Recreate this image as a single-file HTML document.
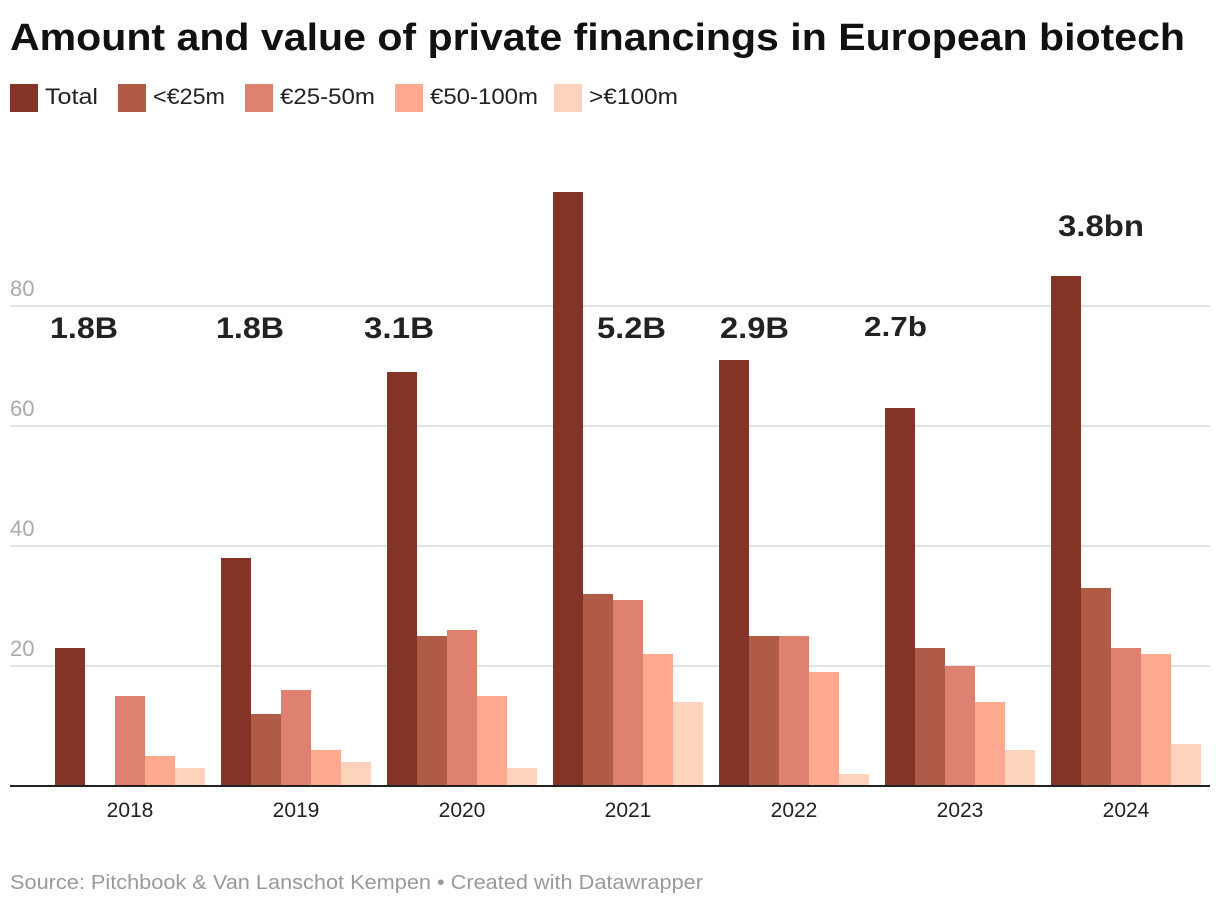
<!DOCTYPE html>
<html><head><meta charset="utf-8"><style>
body{margin:0;background:#fff;width:1220px;height:908px;overflow:hidden;font-family:"Liberation Sans",Arial,sans-serif}
</style></head><body>
<svg id="c" width="1220" height="908" xmlns="http://www.w3.org/2000/svg">
<text x="10" y="50" font-size="38" font-weight="bold" fill="#111" textLength="1175" lengthAdjust="spacingAndGlyphs">Amount and value of private financings in European biotech</text>
<g id="legend"></g>
<g id="grid"></g>
<g id="bars"></g>
<g id="ann"></g>
<text x="10" y="889" font-size="20" fill="#999" textLength="693" lengthAdjust="spacingAndGlyphs">Source: Pitchbook &amp; Van Lanschot Kempen • Created with Datawrapper</text>
</svg>
<script>
const years=["2018","2019","2020","2021","2022","2023","2024"];
const seriesNames=["Total","<€25m","€25-50m","€50-100m",">€100m"];
const total=[23,38,69,99,71,63,85];
const under25=[0,12,25,32,25,23,33];
const m25to50=[15,16,26,31,25,20,23];
const m50to100=[5,6,15,22,19,14,22];
const over100=[3,4,3,14,2,6,7];
const yTicks=[20,40,60,80];
const annotations=["1.8B","1.8B","3.1B","5.2B","2.9B","2.7b","3.8bn"];
const colors=["#843327","#b05a48","#de8170","#fca98f","#fdd3bb"];
const series=[total,under25,m25to50,m50to100,over100];
const NS="http://www.w3.org/2000/svg";
const y0=786,pxPer=6;
const y=v=>y0-v*pxPer;
const gx=i=>55+i*166;
function mk(t,a,p){const e=document.createElementNS(NS,t);for(const k in a)e.setAttribute(k,a[k]);p.appendChild(e);return e;}
const lg=document.getElementById('legend');
const lxs=[10,118,245,395,554];
const ltw=[53,72,95,108,89];
seriesNames.forEach((n,i)=>{
 const r=mk('rect',{x:lxs[i],y:84,width:28,height:28,fill:colors[i]},lg);
 
 
 const t=mk('text',{x:lxs[i]+35,y:104,'font-size':22,fill:'#222',textLength:ltw[i],lengthAdjust:'spacingAndGlyphs'},lg);t.textContent=n;
 
 
});
const g=document.getElementById('grid');
yTicks.forEach(v=>{
 const l=mk('line',{x1:10,x2:1210,y1:y(v),y2:y(v),stroke:'#e2e2e2','stroke-width':2},g);
 
 
 const t=mk('text',{x:10,y:y(v)-10,'font-size':22,fill:'#aaa'},g);t.textContent=v;
 
 
});
const b=document.getElementById('bars');
years.forEach((yr,i)=>{
 series.forEach((s,j)=>{
  const v=s[i];if(v<=0)return;
  const r=mk('rect',{x:gx(i)+j*30,y:y(v),width:30,height:v*pxPer,fill:colors[j]},b);
  
  
 });
 const t=mk('text',{x:gx(i)+75,y:817,'font-size':21,fill:'#222','text-anchor':'middle'},b);t.textContent=yr;
 
 
});
const base=mk('line',{x1:10,x2:1210,y1:y0,y2:y0,stroke:'#222','stroke-width':2},b);


const a=document.getElementById('ann');
const ax=[50,216,364,597,720,864,1058],ay=[338,338,338,338,338,336,236];
const aw=[68,68,70,69,69,63,86];
annotations.forEach((n,i)=>{
 const t=mk('text',{x:ax[i],y:ay[i],'font-size':i==5?28:30,'font-weight':'bold',fill:'#222',textLength:aw[i],lengthAdjust:'spacingAndGlyphs'},a);t.textContent=n;
 
 
});
</script>
</body></html>
